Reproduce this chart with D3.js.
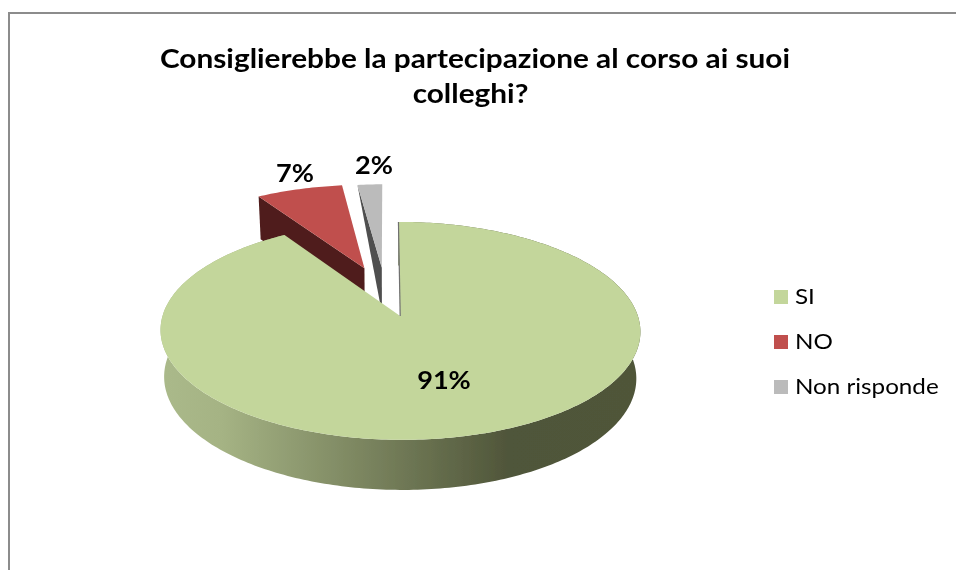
<!DOCTYPE html>
<html>
<head>
<meta charset="utf-8">
<script src="https://cdn.jsdelivr.net/npm/d3@7"></script>
<style>
  html, body { margin: 0; padding: 0; background: #fff; }
  svg { display: block; }
  text { font-family: Lato, "Open Sans", sans-serif; fill: #000; }
</style>
</head>
<body>
<svg id="chart" width="956" height="570"></svg>
<script>
// chart values
const categories = ["SI", "NO", "Non risponde"];
const values = [91, 7, 2];
const titleLines = ["Consiglierebbe la partecipazione al corso ai suoi", "colleghi?"];

// how far each slice is pulled out of the pie (fraction of radius)
const explode = [0.22, 0.28, 0.27];
// colours of the top faces and of the cut faces
const topColors = ["#c3d69b", "#c0504d", "#bbbbbb"];
const wallColors = ["#6f6f6f", "#4f1f1d", "#4f4f4f"];
// share of the wall height kept at the outer corner of the cut face
const outerWall = [1, 1, 0];

// 3d view of the pie
const cx = 385.6, cy = 294, R = 231, K = 101, persp = 0.133, T = 45.7;

var root = d3.select("#chart");
var defs = root.append("defs");

// the reference is a slightly soft, scaled up picture
defs.append("filter")
  .attr("id", "soft")
  .attr("filterUnits", "userSpaceOnUse")
  .attr("x", 0).attr("y", 0).attr("width", 956).attr("height", 570)
  .append("feGaussianBlur")
  .attr("stdDeviation", 0.45);

var grad = defs.append("linearGradient")
  .attr("id", "sideGrad")
  .attr("gradientUnits", "userSpaceOnUse")
  .attr("x1", 165).attr("x2", 640).attr("y1", 0).attr("y2", 0);
grad.append("stop").attr("offset", "0").attr("stop-color", "#aab98a");
grad.append("stop").attr("offset", "0.12").attr("stop-color", "#a5b384");
grad.append("stop").attr("offset", "0.72").attr("stop-color", "#50563a");
grad.append("stop").attr("offset", "1").attr("stop-color", "#4f5539");

var svg = root.append("g").attr("filter", "url(#soft)");

// frame of the chart area
svg.append("path")
  .attr("d", d3.line()([[9, 570], [9, 13], [956, 13]]))
  .attr("fill", "none")
  .attr("stroke", "#8c8c8c")
  .attr("stroke-width", 2);

// title, the lettering of the reference is stretched sideways
svg.append("g").selectAll("text")
  .data(titleLines)
  .join("text")
  .attr("transform", (d, i) => "translate(" + (i ? 470.5 : 475) + "," + (68 + i * 35) + ") scale(1.084,1)")
  .attr("text-anchor", "middle")
  .attr("font-size", 27.5)
  .attr("font-weight", 700)
  .text(d => d);

var slices = d3.pie().sort(null).startAngle(0).endAngle(2 * Math.PI)(values);

// world position -> screen, z = 0 top plane, z = 1 bottom plane
function project(X, Y, z) {
  var s = 1 / (1 + persp * Y);
  var shrink = 1 - z * 0.016;
  return [cx + X * R * s * shrink, cy - Y * K * s + z * T * (s * 0.5 + 0.5)];
}

function apexOf(d) {
  var mid = (d.startAngle + d.endAngle) / 2;
  return [explode[d.index] * Math.sin(mid), explode[d.index] * Math.cos(mid)];
}

function rim(d, a, z) {
  var c = apexOf(d);
  return project(c[0] + Math.sin(a), c[1] + Math.cos(a), z);
}

function arcPoints(d, z) {
  var n = Math.max(8, Math.round((d.endAngle - d.startAngle) * 60));
  return d3.range(n + 1).map(i => rim(d, d.startAngle + (d.endAngle - d.startAngle) * i / n, z));
}

var line = d3.line();
var pie = svg.append("g");

// back slices first, big slice last so that it covers their walls
[2, 1, 0].forEach(function (i) {
  var d = slices.find(s => s.index === i);
  var c = apexOf(d);
  var apexTop = project(c[0], c[1], 0);
  var apexLow = project(c[0], c[1], 1);
  var g = pie.append("g").attr("class", "slice");

  // outer side, only the big slice shows it
  if (i === 0) {
    var upper = arcPoints(d, 0);
    var lower = arcPoints(d, 1).reverse();
    g.append("path")
      .attr("d", line(upper.concat(lower)) + "Z")
      .attr("fill", "url(#sideGrad)");
  }

  // cut face on the left edge of the small slices
  if (i !== 0) {
    var cornerTop = rim(d, d.startAngle, 0);
    var cornerLow = rim(d, d.startAngle, outerWall[i]);
    g.append("path")
      .attr("d", line([apexTop, cornerTop, cornerLow, apexLow]) + "Z")
      .attr("fill", wallColors[i]);
  }

  // top face
  g.append("path")
    .attr("d", line([apexTop].concat(arcPoints(d, 0))) + "Z")
    .attr("fill", topColors[i]);

  // the first edge of the big slice is seen almost edge on
  if (i === 0) {
    g.append("path")
      .attr("d", line([apexTop, rim(d, d.startAngle, 0)]))
      .attr("stroke", wallColors[0])
      .attr("stroke-width", 1.2)
      .attr("fill", "none");
  }
});

// data labels
const labelPos = [[444, 389], [295, 182], [374, 174]];
svg.append("g").selectAll("text")
  .data(slices)
  .join("text")
  .attr("transform", d => "translate(" + labelPos[d.index] + ") scale(1.13,1)")
  .attr("text-anchor", "middle")
  .attr("font-size", 24)
  .attr("font-weight", 700)
  .text(d => d.value + "%");

// legend
var legendY = d3.scalePoint().domain(categories).range([297, 387]);
var legend = svg.append("g").selectAll("g")
  .data(categories)
  .join("g")
  .attr("transform", d => "translate(774," + legendY(d) + ")");
legend.append("rect")
  .attr("x", 0).attr("y", -7)
  .attr("width", 14).attr("height", 14)
  .attr("fill", (d, i) => topColors[i]);
legend.append("text")
  .attr("transform", "translate(21,7) scale(1.126,1)")
  .attr("font-size", 21.5)
  .text(d => d);
</script>
</body>
</html>
